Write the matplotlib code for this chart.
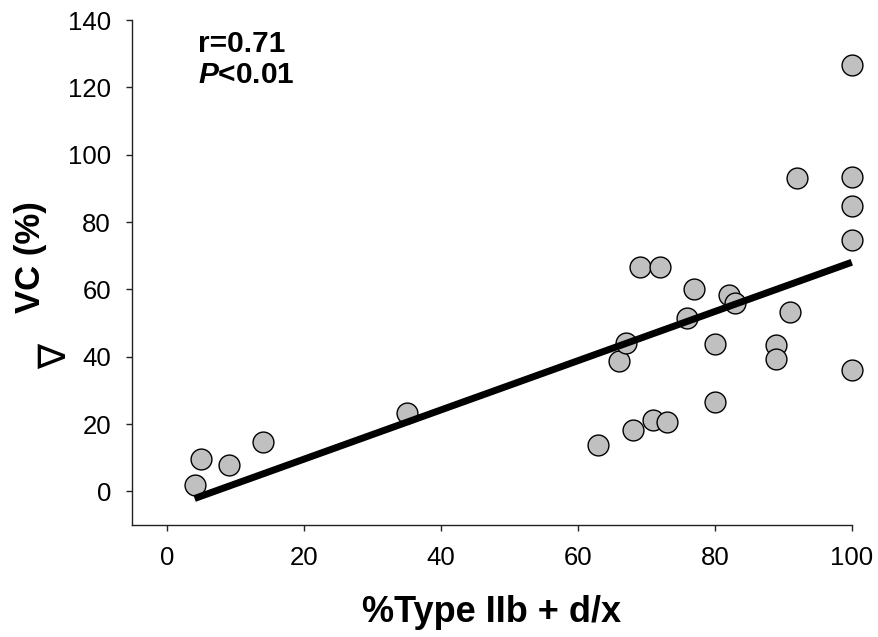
import matplotlib.pyplot as plt
import numpy as np

plt.rcParams['font.family'] = ['Liberation Sans', 'DejaVu Sans']
plt.rcParams['mathtext.fontset'] = 'custom'
plt.rcParams['mathtext.it'] = 'Liberation Sans:italic:bold'
plt.rcParams['mathtext.rm'] = 'Liberation Sans:bold'

# % Type IIb + d/x fibres vs change in VC (%)
type_iib = [4, 5, 9, 14, 35,
            63, 66, 67, 68, 69, 71, 72, 73, 76, 77,
            80, 80, 82, 83, 89, 89, 91, 92,
            100, 100, 100, 100, 100]
delta_vc = [1.8, 9.6, 7.8, 14.6, 23.2,
            13.7, 38.6, 44.2, 18.2, 66.7, 21.2, 66.7, 20.7, 51.4, 60.1,
            43.7, 26.4, 58.2, 56.0, 43.6, 39.2, 53.4, 93.0,
            126.6, 93.4, 84.7, 74.8, 36.0]

x = np.array(type_iib)
y = np.array(delta_vc)
slope, intercept = np.polyfit(x, y, 1)
xfit = np.array([x.min(), x.max()])

fig = plt.figure(figsize=(8.79, 6.37), dpi=100)
ax = fig.add_axes([0.1505, 0.1758, 0.8185, 0.7928])

ax.scatter(x, y, s=225, c='#c0c0c0', edgecolors='black', linewidths=1.0,
           zorder=2, clip_on=False)
ax.plot(xfit, intercept + slope * xfit, color='black', linewidth=5,
        solid_capstyle='butt', zorder=3, clip_on=False)

ax.set_xlim(-5.1, 100)
ax.set_ylim(-10, 140)
ax.set_xticks(np.arange(0, 101, 20))
ax.set_yticks(np.arange(0, 141, 20))

for side in ['top', 'right']:
    ax.spines[side].set_visible(False)
for side in ['left', 'bottom']:
    ax.spines[side].set_linewidth(1.0)
    ax.spines[side].set_color('#222222')

ax.tick_params(direction='out', length=4.3, width=1.0, pad=11, labelsize=18.5,
               color='#222222')

ax.set_xlabel('%Type IIb + d/x', fontsize=26, fontweight='bold', labelpad=18)
ax.set_ylabel('VC (%)', fontsize=25, fontweight='bold')
ax.yaxis.set_label_coords(-0.118, 0.53)
ax.text(-0.1055, 0.333, '\u2207', transform=ax.transAxes, rotation=90,
        ha='center', va='center', fontsize=27, fontweight='normal',
        family=['DejaVu Sans'])

ax.text(0.0913, 0.9366, 'r=0.71', transform=ax.transAxes, fontsize=21.5,
        fontweight='bold', va='baseline', ha='left')
ax.text(0.0913, 0.875, '$P$<0.01', transform=ax.transAxes, fontsize=21.5,
        fontweight='bold', va='baseline', ha='left')

fig.savefig('out.png', dpi=100)
